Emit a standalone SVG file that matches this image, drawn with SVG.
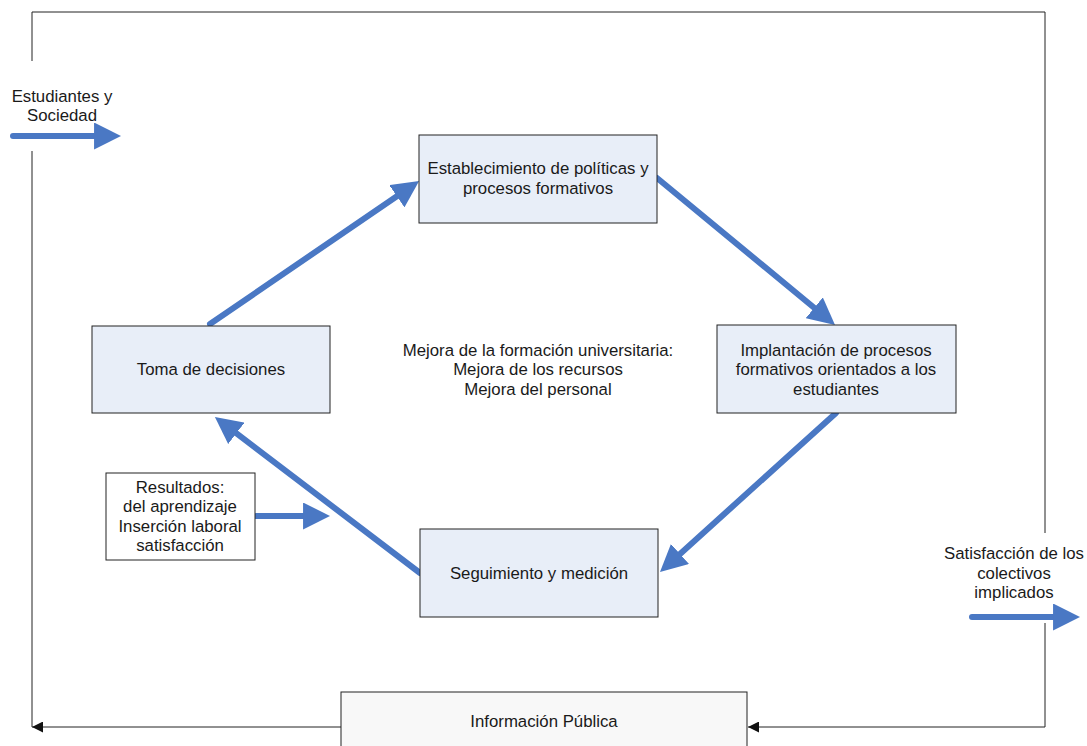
<svg xmlns="http://www.w3.org/2000/svg" width="1087" height="746" viewBox="0 0 1087 746">
<style>
  text { font-family: "Liberation Sans", Arial, sans-serif; font-size: 16.8px; fill: #1a1a1a; text-anchor: middle; }
  .box { fill: #E8EEF8; stroke: #222; stroke-width: 1; }
  .wbox { fill: #FFFFFF; stroke: #222; stroke-width: 1; }
  .ibox { fill: #F8F8F8; stroke: #222; stroke-width: 1; }
  .flow { fill: none; stroke: #4A78C4; stroke-width: 6; stroke-linecap: round; marker-end: url(#bh); }
  .frame { fill: none; stroke: #222; stroke-width: 1; }
  .farrow { marker-end: url(#kh); }
</style>
<defs>
  <marker id="bh" viewBox="0 0 10 10" refX="3.3" refY="5" markerWidth="4.5" markerHeight="4.5" markerUnits="strokeWidth" orient="auto">
    <path d="M0,0 L10,5 L0,10 z" fill="#4A78C4"/>
  </marker>
  <marker id="kh" viewBox="0 0 10 10" refX="10" refY="5" markerWidth="13" markerHeight="11" markerUnits="userSpaceOnUse" orient="auto">
    <path d="M0,0 L10,5 L0,10 z" fill="#111"/>
  </marker>
</defs>

<g id="connectors">
  <path class="frame" d="M32,61 V12 H1045 V533"/>
  <path class="frame farrow" d="M1045,623 V727 H748"/>
  <path class="frame farrow" d="M341,727 H32"/>
  <path class="frame" d="M32,151 V727"/>

  <path class="flow" d="M210,324 L404.2,191.2"/>
  <path class="flow" d="M657,178 L821.1,313.5"/>
  <path class="flow" d="M836,413 L673.4,559.9"/>
  <path class="flow" d="M420,573 L229.3,427.9"/>
  <path class="flow" d="M256,516 L312,516"/>
  <path class="flow" d="M13,136 L103,136"/>
  <path class="flow" d="M972,617 L1062,617"/>
</g>

<g id="n-establecimiento">
  <rect class="box" x="419" y="135" width="238" height="88"/>
  <text x="538" y="174">Establecimiento de políticas y</text>
  <text x="538" y="194">procesos formativos</text>
</g>

<g id="n-toma">
  <rect class="box" x="92" y="326" width="238" height="87"/>
  <text x="211" y="375">Toma de decisiones</text>
</g>

<g id="n-implantacion">
  <rect class="box" x="717" y="325" width="239" height="88"/>
  <text x="836" y="356">Implantación de procesos</text>
  <text x="836" y="375">formativos orientados a los</text>
  <text x="836" y="395">estudiantes</text>
</g>

<g id="n-seguimiento">
  <rect class="box" x="420" y="529" width="238" height="88"/>
  <text x="539" y="579">Seguimiento y medición</text>
</g>

<g id="n-resultados">
  <rect class="wbox" x="106" y="473" width="149" height="87"/>
  <text x="180" y="493">Resultados:</text>
  <text x="180" y="512">del aprendizaje</text>
  <text x="180" y="532">Inserción laboral</text>
  <text x="180" y="551">satisfacción</text>
</g>

<g id="n-informacion">
  <rect class="ibox" x="341" y="692" width="406" height="60"/>
  <text x="544" y="727">Información Pública</text>
</g>

<g id="n-centro">
  <text x="538" y="356">Mejora de la formación universitaria:</text>
  <text x="538" y="375">Mejora de los recursos</text>
  <text x="538" y="395">Mejora del personal</text>
</g>

<g id="n-estudiantes">
  <text x="62" y="102">Estudiantes y</text>
  <text x="62" y="121">Sociedad</text>
</g>

<g id="n-satisfaccion">
  <text x="1014" y="559">Satisfacción de los</text>
  <text x="1014" y="579">colectivos</text>
  <text x="1014" y="598">implicados</text>
</g>
</svg>
